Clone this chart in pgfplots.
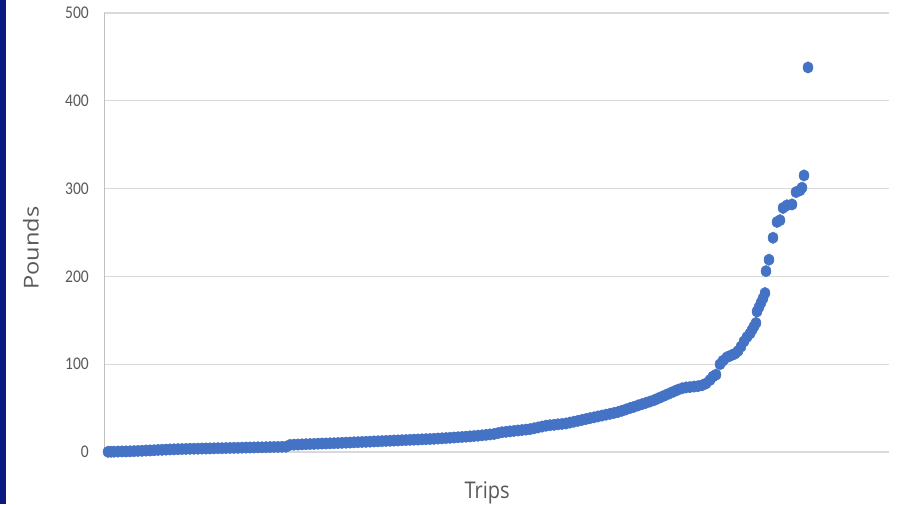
\documentclass[border=0pt]{standalone}
\usepackage{fontspec}
\setmainfont{Carlito}
\newfontfamily\labelfont{Open Sans}
\usepackage{pgfplots}
\pgfplotsset{compat=1.18}

\definecolor{dotblue}{HTML}{4472C4}
\definecolor{gridgray}{HTML}{D9D9D9}
\definecolor{axisgray}{HTML}{BFBFBF}
\definecolor{textgray}{HTML}{595959}
\definecolor{navy}{HTML}{0A1A7E}

\begin{document}
\begin{tikzpicture}
\path[use as bounding box, fill=white] (0,0) rectangle (897pt,504pt);
\fill[navy] (0,0) rectangle (6pt,504pt);
\begin{axis}[
    at={(104pt,52pt)}, anchor=south west,
    scale only axis,
    width=785pt, height=439pt,
    xmin=0, xmax=785,
    ymin=0, ymax=500,
    ytick={0,100,200,300,400,500},
    xtick=\empty,
    axis x line=bottom,
    x axis line style={draw=none, -},
    axis y line=left,
    y axis line style={draw=axisgray, line width=1pt, -},
    major tick length=0pt,
    ymajorgrids,
    grid style={draw=gridgray, line width=1.3pt},
    clip=false,
    yticklabel style={font=\fontsize{15.5}{16}\selectfont, text=textgray,
        anchor=east, inner sep=0pt, xshift=-15pt, yscale=1.15},
    /pgf/number format/assume math mode=true,
    xlabel={Trips}, ylabel={Pounds},
    xlabel style={at={(rel axis cs:0.488,-0.093)}, anchor=center,
        font=\labelfont\fontsize{20}{22}\selectfont, text=textgray, yscale=1.15},
    ylabel style={at={(rel axis cs:-0.093,0.4646)}, anchor=center,
        font=\labelfont\fontsize{20.5}{22}\selectfont, text=textgray, xscale=1.15},
]
\addplot[only marks, mark=*, mark size=5pt,
    mark options={draw=dotblue, fill=dotblue, yscale=1.15}] coordinates {
(4,0.2) (7,0.3) (10,0.4) (14,0.5) (18,0.6) (22,0.7) (26,0.8) (30,1.0)
(34,1.2) (38,1.4) (42,1.6) (46,1.8) (50,2.0) (54,2.3) (58,2.5) (62,2.7)
(66,2.9) (70,3.1) (74,3.2) (78,3.3) (82,3.5) (86,3.6) (90,3.7) (94,3.8)
(98,3.9) (102,4.0) (106,4.1) (110,4.2) (114,4.3) (118,4.4) (122,4.5) (126,4.6)
(130,4.7) (134,4.8) (138,4.9) (142,5.0) (146,5.1) (150,5.2) (154,5.3) (158,5.4)
(162,5.5) (166,5.6) (170,5.7) (174,5.8) (178,5.9) (182,6.0) (186,8.0) (190,8.3)
(194,8.5) (198,8.7) (202,8.9) (206,9.0) (210,9.2) (214,9.4) (218,9.6) (222,9.7)
(226,9.9) (230,10.0) (234,10.2) (238,10.4) (242,10.6) (246,10.8) (250,11.0) (254,11.2)
(258,11.4) (262,11.6) (266,11.8) (270,12.0) (274,12.2) (278,12.4) (282,12.6) (286,12.8)
(290,13.0) (294,13.2) (298,13.4) (302,13.6) (306,13.8) (310,14.0) (314,14.2) (318,14.4)
(322,14.6) (326,14.8) (330,15.0) (334,15.3) (338,15.6) (342,15.9) (346,16.2) (350,16.5)
(354,16.8) (358,17.1) (362,17.4) (366,17.8) (370,18.2) (374,18.6) (378,19.0) (382,19.5)
(386,20.0) (390,20.5) (394,21.5) (398,22.5) (402,23.0) (406,23.5) (410,24.0) (414,24.5)
(418,25.0) (422,25.5) (426,26.0) (430,27.0) (434,28.0) (438,29.0) (442,30.0) (446,30.5)
(450,31.0) (454,31.5) (458,32.0) (462,32.5) (466,33.5) (470,34.5) (474,35.5) (478,36.5)
(482,37.5) (486,38.5) (490,39.5) (494,40.5) (498,41.5) (502,42.5) (506,43.5) (510,44.5)
(514,45.5) (518,47.0) (522,48.5) (526,50.0) (530,51.5) (534,53.0) (538,54.5) (542,56.0)
(546,57.5) (550,59.0) (554,61.0) (558,63.0) (562,65.0) (566,67.0) (570,69.0) (574,71.0)
(578,72.5) (582,73.5) (586,74.0) (590,74.5) (594,75.0) (598,76.0) (602,78.0) (606,82.0)
(609,86.0) (612,88.0) (616,100.0) (619,104.0) (623,108.0) (627,110.0) (631,112.0) (634,115.0)
(637,120.0) (640,126.0) (643,131.0) (646,135.0) (648,139.0) (650,143.0) (652,147.0) (653,160.0)
(655,165.0) (657,170.0) (659,175.0) (661,181.0) (662,206.0) (665,219.0) (669,244.0) (673,262.0)
(676,264.0) (679,278.0) (683,281.0) (688,282.0) (692,296.0) (696,298.0) (698,301.0) (700,315.0)
(704,438.0)
};
\end{axis}
\end{tikzpicture}
\end{document}
